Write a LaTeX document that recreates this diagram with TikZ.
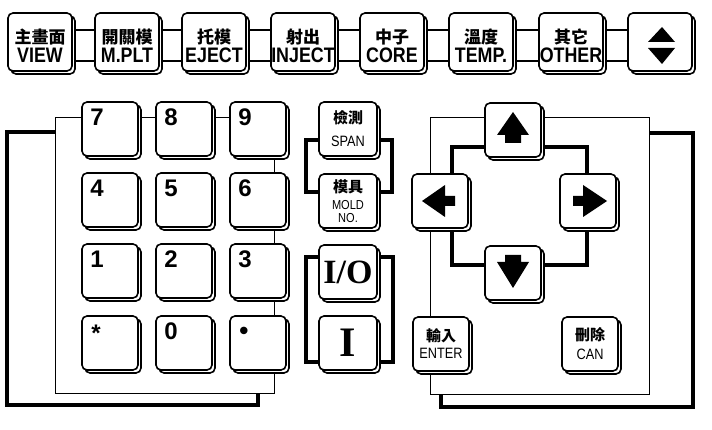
\documentclass[tikz,border=0pt]{standalone}
\usepackage{fontspec}
\setmainfont{Liberation Sans}
\newfontfamily\keyfont{Liberation Sans}[FakeStretch=0.85]
\newfontfamily\serkey{Liberation Serif}
\newfontfamily\cjk{Noto Sans CJK TC}
\usetikzlibrary{shadows, backgrounds}

\tikzset{
  keycap/.style={draw, line width=1.6pt, rounded corners=5pt, fill=white, minimum width=56pt, minimum height=54pt, inner sep=0pt, copy shadow={shadow xshift=3pt, shadow yshift=-3pt}},
  topkey/.style={keycap, minimum width=64pt, minimum height=58pt},
  sidekey/.style={keycap, minimum width=58pt},
  toplbl/.style={align=center, inner sep=0pt, font=\keyfont\bfseries\fontsize{21}{19}\selectfont},
  smalllbl/.style={align=center, inner sep=0pt, font=\keyfont\fontsize{15}{23}\selectfont},
  digit/.style={anchor=base west, inner sep=0pt, font=\bfseries\fontsize{24}{24}\selectfont},
  thickframe/.style={line width=3.5pt},
  panel/.style={draw, line width=1pt, fill=white}
}

\begin{document}
\begin{tikzpicture}[x=1pt, y=-1pt]
        \useasboundingbox (0,0) rectangle (712,430);

        % Top row
        \node[topkey] (VIEW) at (40,42) {};
        \node[topkey] (MPLT) at (127,42) {};
        \node[topkey] (EJECT) at (214,42) {};
        \node[topkey] (INJECT) at (303,42) {};
        \node[topkey] (CORE) at (392,42) {};
        \node[topkey] (TEMP) at (481,42) {};
        \node[topkey] (OTHER) at (571,42) {};
        \node[topkey] (UD) at (660,42) {};

        % Number pad
        \node[keycap] (K7) at (110,129) {};
        \node[keycap] (K8) at (184,129) {};
        \node[keycap] (K9) at (258,129) {};
        \node[keycap] (K4) at (110,200) {};
        \node[keycap] (K5) at (184,200) {};
        \node[keycap] (K6) at (258,200) {};
        \node[keycap] (K1) at (110,271) {};
        \node[keycap] (K2) at (184,271) {};
        \node[keycap] (K3) at (258,271) {};
        \node[keycap] (KS) at (110,343) {};
        \node[keycap] (K0) at (184,343) {};
        \node[keycap] (KP) at (258,343) {};

        % Middle column
        \node[sidekey] (SPAN) at (348,129) {};
        \node[sidekey] (MOLD) at (348,201) {};
        \node[sidekey, font=\serkey\bfseries\fontsize{34}{34}\selectfont] (IO) at (348,272) {I/O};
        \node[sidekey, font=\serkey\bfseries\fontsize{42}{42}\selectfont] (ION) at (348,343) {I};

        % Cursor keys
        \node[keycap] (UP) at (513,130) {};
        \node[keycap] (LEFT) at (440,201) {};
        \node[keycap] (RIGHT) at (588,201) {};
        \node[keycap] (DOWN) at (513,273) {};
        \node[keycap] (ENTER) at (441,344) {};
        \node[keycap] (CAN) at (590,344) {};

        % Panels and frames
        \begin{pgfonlayer}{background}
        \draw[thickframe] (7,132) rectangle (258,405);
        \draw[panel] (55,118) rectangle (274,393);
        \draw[thickframe] (441,133) rectangle (693,407);
        \draw[panel] (430,118) rectangle (649,394);
        \draw[line width=2pt] ([yshift=12pt]VIEW.center) rectangle ([yshift=-19pt]UD.center);
        \draw[thickframe] ([xshift=-42pt,yshift=-11pt]SPAN.center) rectangle ([xshift=44pt,yshift=9pt]MOLD.center);
        \draw[thickframe] ([xshift=-42pt,yshift=15pt]IO.center) rectangle ([xshift=45pt,yshift=-19pt]ION.center);
        \draw[thickframe] (452,147) rectangle (587,265);
        \end{pgfonlayer}

        % Labels
        \node[toplbl] (VIEWl) at ([yshift=-4pt]VIEW.center) {{\cjk\fontsize{17}{19}\selectfont 主畫面}\\VIEW};
        \node[toplbl] (MPLTl) at ([yshift=-4pt]MPLT.center) {{\cjk\fontsize{17}{19}\selectfont 開關模}\\M.PLT};
        \node[toplbl] (EJECTl) at ([yshift=-4pt]EJECT.center) {{\cjk\fontsize{17}{19}\selectfont 托模}\\EJECT};
        \node[toplbl] (INJECTl) at ([yshift=-4pt]INJECT.center) {{\cjk\fontsize{17}{19}\selectfont 射出}\\INJECT};
        \node[toplbl] (COREl) at ([yshift=-4pt]CORE.center) {{\cjk\fontsize{17}{19}\selectfont 中子}\\CORE};
        \node[toplbl] (TEMPl) at ([yshift=-4pt]TEMP.center) {{\cjk\fontsize{17}{19}\selectfont 溫度}\\TEMP.};
        \node[toplbl] (OTHERl) at ([yshift=-4pt]OTHER.center) {{\cjk\fontsize{17}{19}\selectfont 其它}\\OTHER};

        \node[digit] (K7l) at ([xshift=9pt,yshift=-24pt]K7.north west) {7};
        \node[digit] (K8l) at ([xshift=9pt,yshift=-24pt]K8.north west) {8};
        \node[digit] (K9l) at ([xshift=9pt,yshift=-24pt]K9.north west) {9};
        \node[digit] (K4l) at ([xshift=9pt,yshift=-24pt]K4.north west) {4};
        \node[digit] (K5l) at ([xshift=9pt,yshift=-24pt]K5.north west) {5};
        \node[digit] (K6l) at ([xshift=9pt,yshift=-24pt]K6.north west) {6};
        \node[digit] (K1l) at ([xshift=9pt,yshift=-24pt]K1.north west) {1};
        \node[digit] (K2l) at ([xshift=9pt,yshift=-24pt]K2.north west) {2};
        \node[digit] (K3l) at ([xshift=9pt,yshift=-24pt]K3.north west) {3};
        \node[digit] (KSl) at ([xshift=10pt,yshift=-26pt]KS.north west) {*};
        \node[digit] (K0l) at ([xshift=9pt,yshift=-24pt]K0.north west) {0};
        \node[digit, font=\bfseries\fontsize{26}{26}\selectfont] (KPl) at ([xshift=10pt,yshift=-24pt]KP.north west) {•};

        \node[smalllbl] (SPANl) at (SPAN.center) {{\cjk\bfseries\fontsize{15}{23}\selectfont 檢測}\\SPAN};
        \node[smalllbl, font=\keyfont\fontsize{13}{13}\selectfont] (MOLDl) at (MOLD.center) {{\cjk\bfseries\fontsize{15}{13}\selectfont 模具}\\[4pt]MOLD\\NO.};
        \node[smalllbl, font=\keyfont\fontsize{15}{17}\selectfont] (ENTERl) at (ENTER.center) {{\cjk\bfseries\fontsize{15}{17}\selectfont 輸入}\\ENTER};
        \node[smalllbl, font=\keyfont\fontsize{15}{19}\selectfont] (CANl) at (CAN.center) {{\cjk\bfseries\fontsize{15}{19}\selectfont 刪除}\\CAN};

        % Arrow glyphs
        \fill[shift={(UD.center)}] (2,-15) -- (15,0) -- (-12,0) -- cycle;
        \fill[shift={(UD.center)}] (2,22) -- (15,6) -- (-12,6) -- cycle;
        \fill[shift={(UP.center)}] (0,-18) -- (16,5) -- (8,5) -- (8,13) -- (-8,13) -- (-8,5) -- (-16,5) -- cycle;
        \fill[shift={(DOWN.center)}] (0,15) -- (16,-11) -- (8,-11) -- (8,-18) -- (-8,-18) -- (-8,-11) -- (-16,-11) -- cycle;
        \fill[shift={(RIGHT.center)}] (19,0) -- (-5,-16) -- (-5,-5) -- (-15,-5) -- (-15,5) -- (-5,5) -- (-5,16) -- cycle;
        \fill[shift={(LEFT.center)}] (-18,0) -- (5,-16) -- (5,-5) -- (15,-5) -- (15,5) -- (5,5) -- (5,16) -- cycle;

    \end{tikzpicture}
\end{document}
